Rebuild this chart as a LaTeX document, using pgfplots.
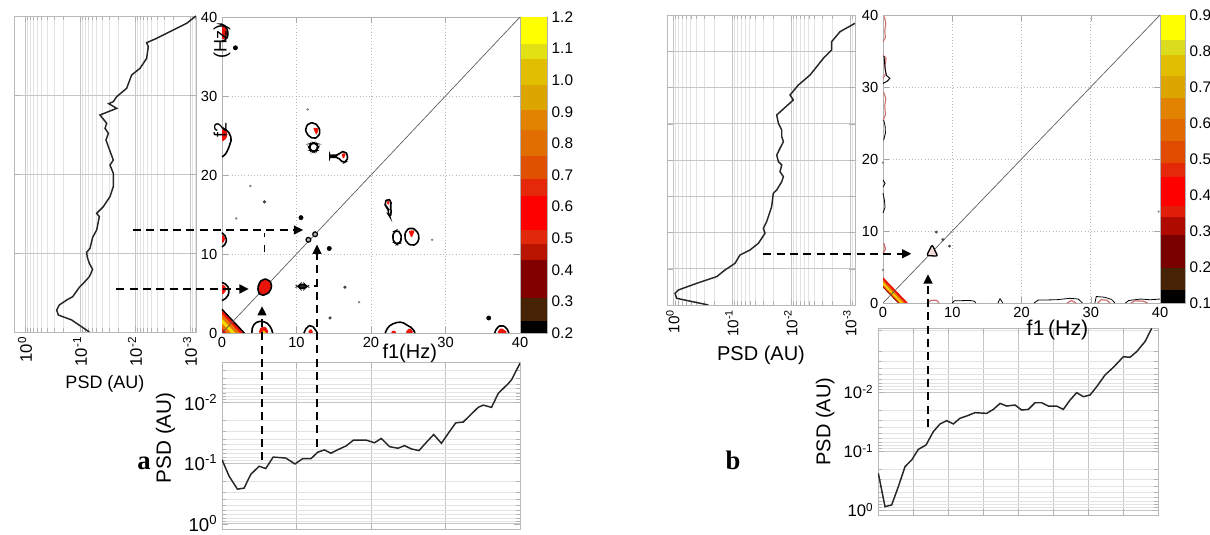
\documentclass[border=0pt]{standalone}
\usepackage{fontspec}
\setmainfont{Liberation Sans}
\newfontfamily\tnr{Liberation Serif}
\usepackage{pgfplots}
\pgfplotsset{compat=1.18}
\usetikzlibrary{arrows.meta}
\pgfplotsset{/pgf/number format/assume math mode=true}
\definecolor{pinkc}{RGB}{205,110,110}
\definecolor{redc}{RGB}{235,20,10}
\definecolor{orc}{RGB}{235,115,0}
\definecolor{yelc}{RGB}{245,220,0}
\definecolor{dred}{RGB}{150,0,0}
\newcommand{\fs}[1]{\fontsize{#1}{#1}\selectfont}
\newcommand{\cb}[5]{\addplot[draw=none, fill={rgb,255:red,#3;green,#4;blue,#5}] coordinates {(0,#1) (1,#1) (1,#2) (0,#2)} --cycle;}
\tikzset{
  outl/.style={draw=black, line width=1.2pt, fill=none, rounded corners=1.5pt},
  core/.style={draw=none, fill=redc, rounded corners=1pt},
  arr/.style={line width=1.6pt, dash pattern=on 6pt off 4pt, -{Triangle[length=7pt,width=6.5pt]}},
}
\pgfplotsset{
  mlx/.style={minor xtick={0.0002,0.0003,0.0004,0.0005,0.0006,0.0007,0.0008,0.0009,0.002,0.003,0.004,0.005,0.006,0.007,0.008,0.009,0.02,0.03,0.04,0.05,0.06,0.07,0.08,0.09,0.2,0.3,0.4,0.5,0.6,0.7,0.8,0.9}},
  mly/.style={minor ytick={0.0002,0.0003,0.0004,0.0005,0.0006,0.0007,0.0008,0.0009,0.002,0.003,0.004,0.005,0.006,0.007,0.008,0.009,0.02,0.03,0.04,0.05,0.06,0.07,0.08,0.09,0.2,0.3,0.4,0.5,0.6,0.7,0.8,0.9}},
  psd/.style={scale only axis, anchor=south west, axis line style={gray!55}, tick style={gray!60},
    major grid style={gray!45, line width=0.4pt}, minor grid style={gray!22, line width=0.3pt}},
  cont/.style={scale only axis, anchor=south west, xmin=0,xmax=40,ymin=0,ymax=40,
    xtick={0,10,20,30,40}, ytick={0,10,20,30,40}, grid=major,
    grid style={gray!55, dotted, line width=0.5pt}, axis line style={gray!60}, tick style={gray!70},
    clip=false, ticklabel style={font=\fs{11}}},
  cbar/.style={scale only axis, anchor=south west, xmin=0, xmax=1, xtick=\empty,
    ytick pos=right, yticklabel pos=right, axis line style={gray!60}, tick style={gray!70},
    ticklabel style={font=\fs{11.5}}},
}
\begin{document}
\begin{tikzpicture}
\path[use as bounding box] (0,0) rectangle (907.5pt,401.25pt);

%================ PANEL A =================
% left PSD
\begin{axis}[psd, at={(10.5pt,152.25pt)}, width=136.5pt, height=237pt,
  xmode=log, x dir=reverse, xmin=0.000778, xmax=1.585, ymin=0, ymax=40,
  ytick={0,10,20,30,40}, yticklabels={},
  xtick={1,0.1,0.01,0.001}, mlx,
  xticklabels={10\textsuperscript{0},10\textsuperscript{-1},10\textsuperscript{-2},10\textsuperscript{-3}},
  xticklabel style={rotate=90, anchor=east, font=\fs{12.5}},
  xmajorgrids, xminorgrids, ymajorgrids,
  xlabel={PSD (AU)}, xlabel style={font=\fs{13.5}}]
\addplot[black!85, line width=1.1pt] coordinates {
(0.0676,0) (0.1416,1.52) (0.2477,2.15) (0.2655,2.78) (0.2377,3.42) (0.1746,4.05) (0.1358,4.47)
(0.1028,5.65) (0.0869,6.16) (0.0676,7.00) (0.0589,7.93) (0.0676,8.69) (0.0736,9.45) (0.0757,10.08)
(0.0658,10.59) (0.0589,11.98) (0.0498,12.91) (0.0445,14.60) (0.0498,15.02) (0.0377,15.86)
(0.0285,17.13) (0.0248,18.40) (0.0248,20.08) (0.0285,21.14) (0.0248,21.77) (0.0305,23.46)
(0.0337,24.30) (0.0305,25.15) (0.0351,25.78) (0.0327,26.41) (0.0433,27.47) (0.0215,28.31)
(0.0300,28.9) (0.0248,29.16) (0.0215,29.79) (0.0142,30.84) (0.0115,32.53) (0.0081,33.38)
(0.00614,34.64) (0.00573,36.12) (0.00614,36.62) (0.00404,37.17) (0.00201,38.23) (0.00115,39.07)
(0.00078,40)};
\end{axis}

% bottom PSD
\begin{axis}[psd, at={(166.5pt,4pt)}, width=223.5pt, height=125.75pt,
  xmin=0, xmax=40, xtick={0,10,20,30,40}, xticklabels={},
  ymode=log, y dir=reverse, ymin=0.002188, ymax=1.253, ytick={1,0.1,0.01}, mly,
  yticklabels={10\textsuperscript{0},10\textsuperscript{-1},10\textsuperscript{-2}},
  yticklabel style={font=\fs{14}},
  xmajorgrids, ymajorgrids, yminorgrids,
  ylabel={PSD (AU)}, ylabel style={font=\fs{15.5}, xshift=6pt}]
\addplot[black!85, line width=1.1pt] coordinates {
(0,0.0885) (0.94,0.1644) (2.07,0.270) (2.96,0.260) (3.86,0.1545) (4.98,0.1135) (5.88,0.1236)
(6.87,0.0802) (8.57,0.0832) (9.79,0.1040) (10.82,0.0853) (11.94,0.0853) (12.84,0.0667)
(13.74,0.0611) (14.63,0.0692) (15.76,0.0589) (16.66,0.0526) (17.64,0.0422) (19.35,0.0422)
(20.47,0.0466) (21.37,0.0396) (22.49,0.0540) (23.61,0.0574) (24.51,0.0520) (25.41,0.0589)
(26.44,0.0627) (27.43,0.0459) (28.42,0.0341) (29.45,0.0476) (30.57,0.0301) (31.38,0.0219)
(32.37,0.0213) (33.27,0.0166) (34.39,0.0122) (35.06,0.0112) (36.18,0.0122) (37.08,0.00718)
(38.43,0.00495) (38.88,0.00427) (40,0.00229)};
\end{axis}

% colorbar a
\begin{axis}[cbar, at={(390pt,151.5pt)}, width=20.25pt, height=237pt, ymin=0.2, ymax=1.2,
  ytick={0.2,0.3,0.4,0.5,0.6,0.7,0.8,0.9,1.0,1.1,1.2},
  yticklabels={0.2,0.3,0.4,0.5,0.6,0.7,0.8,0.9,1.0,1.1,1.2}]
\cb{0.2}{0.237}{0}{0}{0}
\cb{0.237}{0.312}{70}{35}{5}
\cb{0.312}{0.43}{130}{0}{0}
\cb{0.43}{0.483}{185}{20}{0}
\cb{0.483}{0.526}{225}{40}{10}
\cb{0.526}{0.633}{255}{0}{0}
\cb{0.633}{0.686}{230}{40}{10}
\cb{0.686}{0.76}{225}{80}{0}
\cb{0.76}{0.842}{225}{110}{0}
\cb{0.842}{0.906}{225}{130}{0}
\cb{0.906}{0.986}{220}{165}{0}
\cb{0.986}{1.067}{225}{190}{0}
\cb{1.067}{1.115}{225}{225}{20}
\cb{1.115}{1.2}{255}{255}{0}
\end{axis}

% contour a
\begin{axis}[cont, at={(166.5pt,151.5pt)}, width=223.5pt, height=237pt,
  xlabel={f1(Hz)}, xlabel style={at={(axis description cs:0.63,0)}, anchor=center, yshift=-15pt, font=\fs{15}},
  ylabel={f2\hspace{48pt}(Hz)}, ylabel style={at={(axis description cs:0,0.83)}, anchor=center, xshift=-8pt, font=\fs{13.5}}]
% corner
\addplot[draw=none, fill=redc] coordinates {(0,0)(3.0,0)(0,3.0)} --cycle;
\addplot[draw=none, fill=orc] coordinates {(0,0)(2.4,0)(0,2.4)} --cycle;
\addplot[draw=none, fill=yelc] coordinates {(0,0)(1.8,0)(0,1.8)} --cycle;
\addplot[draw=none, fill=orc] coordinates {(0,0)(1.2,0)(0,1.2)} --cycle;
\addplot[draw=none, fill=redc] coordinates {(0,0)(0.6,0)(0,0.6)} --cycle;
\addplot[black, line width=1pt] coordinates {(3.0,0)(0,3.0)};
% diagonal
\addplot[gray!70!black, line width=0.5pt] coordinates {(0,0) (40,40)};
% left-edge blobs
\addplot[core] coordinates {(0,37.1)(0.5,37.3)(0.7,38.0)(0.45,38.7)(0,38.9)} --cycle;
\addplot[outl] coordinates {(0,36.9)(0.6,37.15)(0.85,37.9)(0.6,38.7)(0.1,39.1)(0,39.1)};
\addplot[core] coordinates {(0,24.2)(0.6,24.6)(0.75,25.3)(0.4,25.8)(0,25.9)} --cycle;
\addplot[outl] coordinates {(0,26.0)(0.8,25.6)(1.3,24.6)(1.0,23.7)(0.7,23.0)(0.3,22.4)(0,22.3)};
\addplot[core] coordinates {(0,11.3)(0.4,11.7)(0.35,12.2)(0,12.5)} --cycle;
\addplot[outl] coordinates {(0,12.7)(0.6,12.1)(0.55,11.3)(0,10.9)};
\addplot[core] coordinates {(0,4.8)(0.55,5.3)(0.5,5.9)(0,6.2)} --cycle;
\addplot[outl] coordinates {(0,6.4)(0.7,6.1)(1.0,5.3)(0.7,4.5)(0,4.1)};
% interior blobs
\addplot[outl] coordinates {(11.3,25.3)(11.2,26.0)(11.7,26.6)(12.4,26.6)(12.9,26.2)(13.2,25.5)(12.9,24.8)(12.3,24.6)(11.8,24.8)} --cycle;
\addplot[core] coordinates {(12.2,26.0)(13.0,25.9)(12.7,25.0)} --cycle;
\addplot[outl] coordinates {(11.7,23.5)(11.9,23.95)(12.3,24.05)(12.7,23.95)(12.9,23.5)(12.7,23.1)(12.3,22.95)(11.9,23.1)} --cycle;
\addplot[outl] coordinates {(14.5,22.5)(15.6,22.5)(15.9,22.9)(16.5,23.0)(16.9,22.5)(16.75,21.75)(16.3,21.55)(15.85,21.9)(15.6,22.25)(14.5,22.25)} --cycle;
\addplot[core] coordinates {(16.0,22.7)(16.65,22.75)(16.3,21.95)} --cycle;
\addplot[outl] coordinates {(21.85,16.5)(22.2,17.0)(22.75,16.7)(22.6,16.0)(22.75,15.2)(22.55,14.7)(22.35,15.0)(22.3,15.8)(21.95,16.0)} --cycle;
\addplot[core] coordinates {(22.05,16.65)(22.55,16.75)(22.35,16.1)} --cycle;
\addplot[outl] coordinates {(22.9,12.1)(23.05,12.8)(23.5,13.0)(23.95,12.7)(24.1,12.0)(23.9,11.4)(23.5,11.25)(23.05,11.5)} --cycle;
\addplot[outl] coordinates {(24.5,12.2)(24.7,13.0)(25.4,13.35)(26.1,13.0)(26.5,12.2)(26.2,11.3)(25.5,11.05)(24.8,11.4)} --cycle;
\addplot[core] coordinates {(25.0,12.95)(25.9,13.0)(25.45,12.0)} --cycle;
\addplot[outl, fill=redc] coordinates {(4.8,5.3)(4.9,6.2)(5.4,6.8)(6.2,6.8)(6.7,6.2)(6.5,5.3)(5.9,4.85)(5.2,4.75)} --cycle;
\addplot[outl, fill=black!80] coordinates {(10.2,5.9)(10.5,6.15)(11.1,6.15)(11.4,5.9)(11.1,5.65)(10.5,5.65)} --cycle;
\addplot[black, line width=1.4pt] coordinates {(12.3,5.9)(12.7,5.9)};
\addplot[black, line width=1.4pt] coordinates {(5.7,12.1)(5.7,12.7)};
\addplot[black, line width=1.4pt] coordinates {(5.7,10.3)(5.7,11.1)};
% bottom-edge blobs
\addplot[core] coordinates {(4.9,0)(5.2,0.75)(5.9,0.8)(6.3,0)} --cycle;
\addplot[draw=none, fill=yelc] coordinates {(5.4,0)(5.6,0.35)(5.9,0)} --cycle;
\addplot[outl] coordinates {(4.0,0)(4.1,0.9)(4.8,1.5)(5.9,1.4)(6.6,0.7)(6.8,0)};
\addplot[core] coordinates {(11.5,0)(11.9,0.6)(12.3,0)} --cycle;
\addplot[outl] coordinates {(11.0,0)(11.4,0.8)(12.0,1.0)(12.5,0.5)(12.8,0)};
\addplot[core] coordinates {(22.6,0)(23.0,0.4)(23.5,0)} --cycle;
\addplot[core] coordinates {(24.6,0)(25.1,0.65)(25.6,0.3)(25.7,0)} --cycle;
\addplot[outl] coordinates {(21.9,0)(22.3,0.8)(23.2,1.3)(24.2,1.4)(24.8,1.0)(25.6,0.6)(25.9,0)};
\addplot[core] coordinates {(36.9,0)(37.4,0.65)(38.1,0.3)(38.3,0)} --cycle;
\addplot[outl] coordinates {(36.6,0)(36.9,0.7)(37.5,1.0)(38.2,0.7)(38.5,0)};
% dots
\addplot[only marks, mark=*, mark size=1.6pt, black] coordinates {(1.8,36.1) (10.6,14.6) (35.8,1.9) (14.4,10.7)};
\addplot[only marks, mark=*, mark size=1pt, black!75] coordinates {(5.7,16.6) (16.5,5.8) (14.5,1.9)};
\addplot[only marks, mark=*, mark size=0.7pt, gray] coordinates {(11.5,28.3) (3.8,18.6) (1.9,14.5) (28.2,11.8) (18.4,3.9)};
\addplot[only marks, mark=*, mark size=1.8pt, mark options={fill=gray!60, draw=black, line width=0.9pt}] coordinates {(11.6,11.8) (12.5,12.5)};
% arrows
\draw[arr] (axis cs:-11.95,13.04) -- (axis cs:10.9,13.04);
\draw[arr] (axis cs:-14.2,5.57) -- (axis cs:3.6,5.57);
\draw[arr] (axis cs:5.37,-16.1) -- (axis cs:5.37,3.4);
\draw[arr] (axis cs:12.75,-14.4) -- (axis cs:12.75,11.2);
\end{axis}

%================ PANEL B =================
% left PSD b
\begin{axis}[psd, at={(500.25pt,172.5pt)}, width=141pt, height=217.5pt,
  xmode=log, x dir=reverse, xmin=0.00082, xmax=1.259, ymin=0, ymax=40,
  ytick={0,5,...,40}, yticklabels={},
  xtick={1,0.1,0.01,0.001}, mlx,
  xticklabels={10\textsuperscript{0},10\textsuperscript{-1},10\textsuperscript{-2},10\textsuperscript{-3}},
  xticklabel style={rotate=90, anchor=east, font=\fs{11.5}},
  xmajorgrids, xminorgrids, ymajorgrids,
  xlabel={PSD (AU)}, xlabel style={font=\fs{15}}]
\addplot[black!85, line width=1.1pt] coordinates {
(0.2506,0) (0.863,0.92) (0.920,1.61) (0.809,2.07) (0.395,2.99) (0.181,3.91) (0.131,4.83)
(0.0885,5.75) (0.0730,6.90) (0.0493,7.59) (0.0356,8.51) (0.0275,9.89) (0.0293,10.57)
(0.0258,11.49) (0.0212,13.56) (0.0199,15.40) (0.0174,15.86) (0.0143,17.01) (0.0134,17.70)
(0.0153,18.39) (0.0143,19.31) (0.0163,19.77) (0.0174,20.69) (0.0153,21.61) (0.0134,22.53)
(0.0143,23.22) (0.0143,24.14) (0.0163,25.06) (0.0174,26.21) (0.00910,28.28) (0.01035,28.97)
(0.00748,30.34) (0.00474,31.72) (0.00282,34.02) (0.00204,35.17) (0.00204,36.32)
(0.00147,37.70) (0.00082,38.85)};
\end{axis}

% bottom PSD b
\begin{axis}[psd, at={(658.5pt,15pt)}, width=210pt, height=140.25pt,
  xmin=0, xmax=40, xtick={0,5,...,40}, xticklabels={},
  ymode=log, y dir=reverse, ymin=0.000822, ymax=1.216, ytick={1,0.1,0.01}, mly,
  yticklabels={10\textsuperscript{0},10\textsuperscript{-1},10\textsuperscript{-2}},
  yticklabel style={font=\fs{12.5}},
  xmajorgrids, ymajorgrids, yminorgrids,
  ylabel={PSD (AU)}, ylabel style={font=\fs{15}}]
\addplot[black!85, line width=1.1pt] coordinates {
(0.05,0.239) (1.0,0.879) (1.95,0.822) (2.9,0.403) (3.86,0.1845) (4.81,0.1422) (5.76,0.0938)
(6.86,0.0791) (7.9,0.0470) (8.86,0.0348) (9.81,0.0306) (10.76,0.0348) (11.71,0.0279)
(12.67,0.0255) (13.86,0.0224) (15.52,0.0230) (16.48,0.0197) (17.43,0.0156) (18.38,0.0173)
(19.57,0.0166) (20.52,0.0202) (21.48,0.0197) (22.43,0.0152) (23.38,0.0152) (24.33,0.0173)
(25.52,0.0173) (26.48,0.0197) (27.43,0.0137) (28.38,0.01026) (29.33,0.0120) (30.29,0.01125)
(31.24,0.00813) (32.43,0.00515) (33.62,0.00382) (35.05,0.00252) (36.0,0.00258)
(36.95,0.00207) (38.14,0.00140) (39.1,0.000834)};
\end{axis}

% colorbar b
\begin{axis}[cbar, at={(870pt,174pt)}, width=18.75pt, height=216pt, ymin=0.1, ymax=0.9,
  ytick={0.1,0.2,0.3,0.4,0.5,0.6,0.7,0.8,0.9},
  yticklabels={0.1,0.2,0.3,0.4,0.5,0.6,0.7,0.8,0.9}]
\cb{0.1}{0.137}{0}{0}{0}
\cb{0.137}{0.197}{70}{35}{5}
\cb{0.197}{0.29}{120}{0}{0}
\cb{0.29}{0.34}{175}{10}{0}
\cb{0.34}{0.37}{225}{30}{10}
\cb{0.37}{0.45}{255}{0}{0}
\cb{0.45}{0.49}{230}{40}{10}
\cb{0.49}{0.55}{225}{75}{0}
\cb{0.55}{0.61}{225}{105}{0}
\cb{0.61}{0.67}{225}{130}{0}
\cb{0.67}{0.73}{220}{165}{0}
\cb{0.73}{0.79}{225}{190}{0}
\cb{0.79}{0.83}{220}{220}{30}
\cb{0.83}{0.9}{255}{255}{0}
\end{axis}

% contour b
\begin{axis}[cont, at={(662.25pt,174pt)}, width=207.75pt, height=216pt,
  xlabel={f1\,(Hz)}, xlabel style={at={(axis description cs:0.63,0)}, anchor=center, yshift=-20pt, font=\fs{16}}]
% corner stripes
\addplot[draw=none, fill=redc] coordinates {(0,0)(3.6,0)(0,3.6)} --cycle;
\addplot[draw=none, fill=orc] coordinates {(0,0)(3.2,0)(0,3.2)} --cycle;
\addplot[draw=none, fill=yelc] coordinates {(0,0)(2.85,0)(0,2.85)} --cycle;
\addplot[draw=none, fill=orc] coordinates {(0,0)(2.55,0)(0,2.55)} --cycle;
\addplot[draw=none, fill=dred] coordinates {(0,0)(2.3,0)(0,2.3)} --cycle;
\addplot[draw=none, fill=white] coordinates {(0,0)(2.1,0)(0,2.1)} --cycle;
% diagonal
\addplot[gray!70!black, line width=0.5pt] coordinates {(0,0) (40,40)};
% left edge contours
\addplot[pinkc, line width=0.8pt] coordinates {(0,36.3)(0.35,36.9)(0.25,37.8)(0.4,38.8)(0.2,39.8)};
\addplot[pinkc, line width=0.8pt] coordinates {(0,31.2)(0.4,31.9)(0.3,33.0)(0.45,34.0)(0,34.4)};
\addplot[black, line width=0.7pt] coordinates {(0,30.5)(0.6,30.8)(1.0,31.2)(0.5,31.6)(0.3,32.5)(0.15,34.3)};
\addplot[pinkc, line width=0.8pt] coordinates {(0,25.3)(0.35,26.2)(0.25,27.4)(0.4,28.4)(0.1,29.3)};
\addplot[black, line width=0.6pt] coordinates {(0.1,22.6)(0.35,23.6)(0.3,24.6)(0.1,25.4)};
\addplot[black, line width=0.6pt] coordinates {(0,16.1)(0.3,16.6)(0,17.1)};
\addplot[black, line width=0.6pt] coordinates {(0,12.5)(0.3,13.3)(0.2,14.3)(0,15.3)};
\addplot[pinkc, line width=1pt] coordinates {(0,6.9)(0.35,7.5)(0.1,8.3)};
% bottom edge contours
\addplot[pinkc, line width=0.9pt] coordinates {(6.4,0)(6.9,0.35)(7.7,0.4)(8.1,0)};
\addplot[black, line width=0.6pt] coordinates {(10.0,0)(10.3,0.3)(12.5,0.35)(13.2,0.25)(13.4,0)};
\addplot[black, line width=0.6pt] coordinates {(16.6,0)(16.9,0.6)(17.3,0)};
\addplot[black, line width=0.6pt] coordinates {(21.8,0)(22.4,0.4)(25.0,0.45)(27.0,0.65)(28.2,0.55)(28.8,0)};
\addplot[pinkc, line width=0.9pt] coordinates {(26.6,0)(27.2,0.35)(27.9,0)};
\addplot[black, line width=0.6pt] coordinates {(30.6,0)(30.8,0.9)(32.0,0.8)(33.0,0.5)(33.5,0)};
\addplot[pinkc, line width=0.9pt] coordinates {(31.0,0)(31.5,0.45)(32.3,0.4)(32.8,0)};
\addplot[black, line width=0.6pt] coordinates {(35.0,0)(35.5,0.35)(37.2,0.55)(38.6,0.45)(40,0.55)};
\addplot[pinkc, line width=0.9pt] coordinates {(35.8,0)(36.4,0.3)(37.6,0.25)(38.2,0)};
% triangle blob and dots
\addplot[outl, line width=1pt, fill=pinkc!25] coordinates {(6.3,6.6)(7.9,6.5)(7.1,8.1)} --cycle;
\addplot[only marks, mark=*, mark size=0.9pt, black!70] coordinates {(7.7,9.85) (8.65,8.8) (9.6,7.9)};
\addplot[only marks, mark=*, mark size=0.6pt, gray] coordinates {(39.8,12.7) (0,4.6) (0,19.5)};
% arrows
\draw[arr] (axis cs:-17.3,6.84) -- (axis cs:4.1,6.84);
\draw[arr] (axis cs:6.5,-17.2) -- (axis cs:6.5,4.0);
\end{axis}

\node[font={\tnr\bfseries\fs{20}}] at (108pt,54pt) {a};
\node[font={\tnr\bfseries\fs{20}}] at (549.75pt,56.25pt) {b};
\end{tikzpicture}
\end{document}
